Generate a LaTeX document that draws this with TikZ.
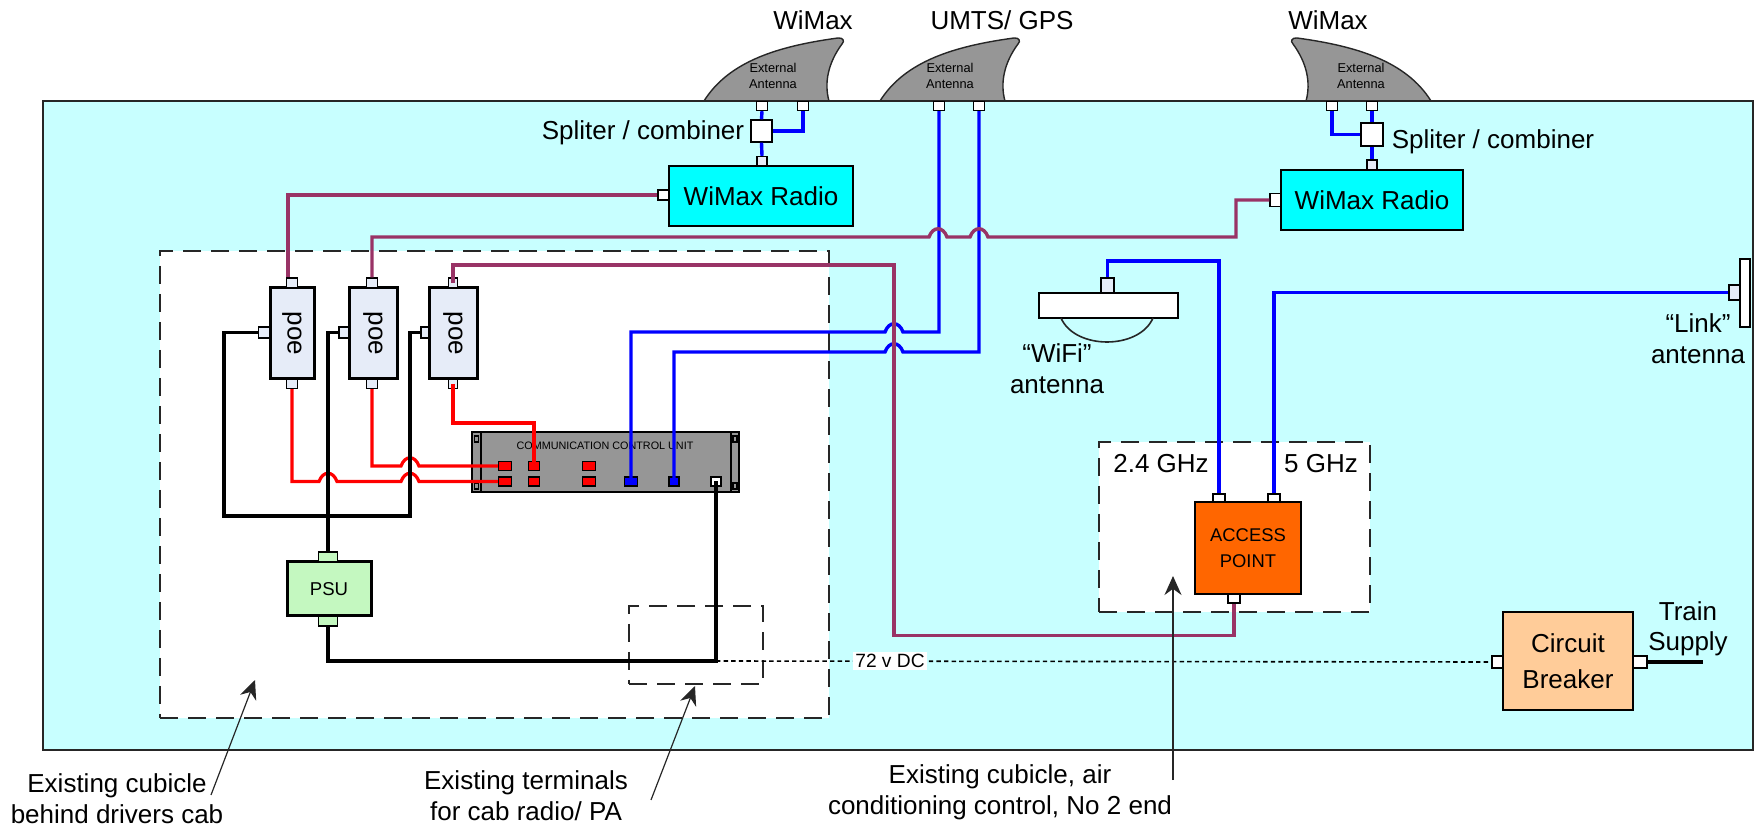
\documentclass[tikz,border=0pt]{standalone}
\usepackage{xcolor}
\usepackage{fontspec}
\setmainfont{Liberation Sans}
\usetikzlibrary{positioning,arrows.meta,calc}

\definecolor{trainbg}{HTML}{C8FFFF}
\definecolor{radiocol}{HTML}{00FFFF}
\definecolor{poecol}{HTML}{E6ECF8}
\definecolor{psucol}{HTML}{C4F8C0}
\definecolor{apcol}{HTML}{FF6600}
\definecolor{cbcol}{HTML}{FFCC99}
\definecolor{purplewire}{HTML}{993366}
\definecolor{unitgray}{HTML}{969696}

\tikzset{
    blk/.style 2 args={draw,inner sep=0pt,minimum width=#1*0.5pt,minimum height=#2*0.5pt},
    port/.style 2 args={blk={#1}{#2},fill=white,line width=0.7pt},
    dashbox/.style 2 args={blk={#1}{#2},fill=white,line width=0.8pt,dash pattern=on 9pt off 5pt,draw=black!85},
    txt/.style={inner sep=0pt,align=center,font=\fontsize{13}{15.5}\selectfont},
    tinytxt/.style={inner sep=0pt,align=center,font=\fontsize{6.4}{8}\selectfont},
    bluewire/.style={draw=blue,line width=1.7pt},
    redwire/.style={draw=red,line width=1.6pt},
    purplew/.style={draw=purplewire,line width=1.7pt},
    blackwire/.style={draw=black,line width=1.6pt},
    callout/.style={draw=black!85,line width=0.6pt,-{Stealth[length=9.5pt,width=8.5pt]}},
    fin/.style={draw=black!85,fill=unitgray,line width=0.7pt}
}

% hump of a wire that jumps over another one
\newcommand{\hopover}[1]{.. controls ($(#1)+(-5,-11)$) and ($(#1)+(5,-11)$) .. ($(#1)+(9,0)$)}
\newcommand{\finpath}{(0,0) .. controls (25,-40) and (75,-55) .. (134,-63) .. controls (139,-63.5) and (141,-60) .. (138,-57) .. controls (124,-38) and (120,-18) .. (125,0) -- cycle}

\begin{document}
\begin{tikzpicture}[x=0.5pt,y=-0.5pt]
    \useasboundingbox (0,0) rectangle (1758,828);

    % Antennas on the roof
    \draw[fin,shift={(704,101)}] \finpath;
    \draw[fin,shift={(880,101)}] \finpath;
    \draw[fin,shift={(1431,101)},xscale=-1] \finpath;

    % Train
    \node[blk={1710}{649},fill=trainbg,line width=0.8pt,draw=black!85] (train) at (898,425.5) {};
    \node[dashbox={669}{467}] (cubicle) at (494.5,484.5) {};
    \node[dashbox={134}{78}] (terminals) at (696,645) {};
    \node[dashbox={271}{170}] (apbox) at (1234.5,527) {};

    % Roof labels
    \node[txt] (wimaxa) at (813,20) {WiMax};
    \node[txt] (umts) at (1002,20) {UMTS/ GPS};
    \node[txt] (wimaxb) at (1328,20) {WiMax};
    \node[tinytxt] (exta) at (773,76) {External\\Antenna};
    \node[tinytxt] (extb) at (950,76) {External\\Antenna};
    \node[tinytxt] (extc) at (1361,76) {External\\Antenna};

    % Antenna ports
    \node[port={11}{9}] (anta) at (762,106) {};
    \node[port={11}{9}] (antb) at (803,106) {};
    \node[port={11}{9}] (antc) at (939,106) {};
    \node[port={11}{9}] (antd) at (979,106) {};
    \node[port={11}{9}] (ante) at (1332,106) {};
    \node[port={11}{9}] (antf) at (1372,106) {};

    % WiMax radio 1
    \node[port={21}{22}] (splita) at (761.5,131) {};
    \node[txt] (splitla) at (643,133) {Spliter / combiner};
    \node[blk={184}{60},fill=radiocol,line width=0.8pt,font=\fontsize{13}{15}\selectfont] (radioa) at (761,196) {WiMax Radio};
    \node[port={10}{9},fill=poecol] (radioat) at (762,161) {};
    \node[port={11}{10}] (radioal) at (663.5,195) {};

    % WiMax radio 2
    \node[port={22}{23}] (splitb) at (1372,134.5) {};
    \node[txt] (splitlb) at (1493,142) {Spliter / combiner};
    \node[blk={182}{60},fill=radiocol,line width=0.8pt,font=\fontsize{13}{15}\selectfont] (radiob) at (1372,200) {WiMax Radio};
    \node[port={10}{10},fill=poecol] (radiobt) at (1372,165) {};
    \node[port={11}{13}] (radiobl) at (1275.5,200) {};

    % PoE units
    \node[blk={44}{91},fill=poecol,line width=1.5pt] (poea) at (292,333.5) {\rotatebox{-90}{\fontsize{13}{15}\selectfont poe}};
    \node[port={11}{10},fill=poecol] (poeat) at (292,283) {};
    \node[port={11}{9},fill=poecol] (poeab) at (292,384) {};
    \node[port={11}{11},fill=poecol] (poeal) at (264,332.5) {};
    \node[blk={48}{91},fill=poecol,line width=1.5pt] (poeb) at (373,333.5) {\rotatebox{-90}{\fontsize{13}{15}\selectfont poe}};
    \node[port={11}{10},fill=poecol] (poebt) at (372,283) {};
    \node[port={11}{9},fill=poecol] (poebb) at (372,384) {};
    \node[port={10}{11},fill=poecol] (poebl) at (344,332.5) {};
    \node[blk={48}{91},fill=poecol,line width=1.5pt] (poec) at (453,333.5) {\rotatebox{-90}{\fontsize{13}{15}\selectfont poe}};
    \node[port={9}{10},fill=poecol] (poect) at (453,283) {};
    \node[port={9}{9},fill=poecol] (poecb) at (453,384) {};
    \node[port={8}{11},fill=poecol] (poecl) at (425,332.5) {};

    % Communication control unit
    \node[blk={267}{60},fill=unitgray,line width=0.8pt] (ccu) at (605.5,462) {};
    \node[blk={9}{60},fill=unitgray,line width=0.6pt] (earl) at (476.5,462) {};
    \node[blk={8}{60},fill=unitgray,line width=0.6pt] (earr) at (735,462) {};
    \node[port={4}{6},fill=unitgray] (pinla) at (476.5,439) {};
    \node[port={4}{6},fill=unitgray] (pinlb) at (476.5,486) {};
    \node[port={4}{6},fill=unitgray] (pinra) at (735,439) {};
    \node[port={4}{6},fill=unitgray] (pinrb) at (735,486) {};
    \node[inner sep=0pt,font=\fontsize{5.4}{7}\selectfont] (ccut) at (605,446) {COMMUNICATION CONTROL UNIT};
    \node[port={13}{9},fill=red] (ccura) at (505,466) {};
    \node[port={11}{9},fill=red] (ccurb) at (534,466) {};
    \node[port={13}{9},fill=red] (ccurc) at (589,466) {};
    \node[port={13}{9},fill=red] (ccurd) at (505,481.5) {};
    \node[port={11}{9},fill=red] (ccure) at (534,481.5) {};
    \node[port={13}{9},fill=red] (ccurf) at (589,481.5) {};
    \node[port={13}{9},fill=blue] (ccuba) at (631,481.5) {};
    \node[port={10}{9},fill=blue] (ccubb) at (674,481.5) {};
    \node[port={10}{9}] (ccuw) at (716,481.5) {};

    % PSU
    \node[blk={84}{54},fill=psucol,line width=1.5pt,font=\fontsize{9.3}{11}\selectfont] (psu) at (329,589) {PSU};
    \node[port={19}{10},fill=psucol] (psut) at (328,557) {};
    \node[port={19}{10},fill=psucol] (psub) at (328,621) {};

    % WiFi and link antennas
    \node[blk={139}{25},fill=white,line width=0.8pt] (wifi) at (1108.5,305.5) {};
    \node[port={13}{15},fill=poecol] (wifit) at (1107.5,285.5) {};
    \draw[line width=0.8pt,draw=black!85] (1061,318) .. controls (1075,350) and (1139,350) .. (1153,318);
    \node[txt] (wifil) at (1057,368.5) {``WiFi''\\antenna};
    \node[blk={10}{68},fill=white,line width=0.8pt] (link) at (1745,293) {};
    \node[port={11}{15},fill=poecol] (linkp) at (1734.5,292.5) {};
    \node[txt] (linkl) at (1698,339) {``Link''\\antenna};

    % Access point
    \node[txt] (ghza) at (1161,464) {2.4 GHz};
    \node[txt] (ghzb) at (1321,464) {5 GHz};
    \node[blk={106}{92},fill=apcol,line width=0.8pt,align=center,font=\fontsize{9.2}{13}\selectfont] (ap) at (1248,548) {ACCESS\\POINT};
    \node[port={12}{8}] (apa) at (1219,498) {};
    \node[port={12}{8}] (apc) at (1274,498) {};
    \node[port={12}{9}] (apb) at (1234,598.5) {};

    % Circuit breaker
    \node[blk={130}{98},fill=cbcol,line width=0.8pt,align=center,font=\fontsize{13}{18}\selectfont] (cb) at (1568,661) {Circuit\\Breaker};
    \node[port={11}{12}] (cbl) at (1497.5,662) {};
    \node[port={14}{12}] (cbr) at (1640,662) {};
    \coordinate (supply) at (1703,662);
    \node[txt,font=\fontsize{13}{15}\selectfont] (trainl) at (1688,629) {Train\\Supply};

    % Hops and corners
    \coordinate (hopa) at (938,237);
    \coordinate (hopb) at (979,237);
    \coordinate (hopc) at (894,332);
    \coordinate (hopd) at (894,352);
    \coordinate (hope) at (328,481.5);
    \coordinate (hopf) at (410,481.5);
    \coordinate (hopg) at (410,466);
    \coordinate (cornera) at (1236,237);
    \coordinate (cornerb) at (894,265);
    \coordinate (cornerc) at (894,635.5);
    \coordinate (loopl) at (224,516);
    \coordinate (loopr) at (410,516);
    \coordinate (dctap) at (716,661);
    \coordinate (redbend) at (534,423);
    \coordinate (wifibend) at (1219,261);

    % Blue wires
    \draw[bluewire] (anta.south) -- (splita.north);
    \draw[bluewire] (antb.south) |- (splita.east);
    \draw[bluewire] (splita.south) -- (radioat.north);
    \draw[bluewire] (ante.south) |- (splitb.west);
    \draw[bluewire] (antf.south) -- (splitb.north);
    \draw[bluewire] (splitb.south) -- (radiobt.north);
    \draw[bluewire] (ccuba.center) |- ($(hopc)+(-9,0)$) \hopover{hopc} -| (antc.south);
    \draw[bluewire] (ccubb.center) |- ($(hopd)+(-9,0)$) \hopover{hopd} -| (antd.south);
    \draw[bluewire] (wifit.north) |- (wifibend) -- (apa.north);
    \draw[bluewire] (apc.north) |- (linkp.west);

    % Purple wires
    \draw[purplew] ([xshift=-2pt]poeat.north) |- (radioal.west);
    \draw[purplew] (poebt.north) |- ($(hopa)+(-9,0)$) \hopover{hopa} -- ($(hopb)+(-9,0)$) \hopover{hopb} -- (cornera) |- (radiobl.west);
    \draw[purplew] (poect.center) |- (cornerb) -- (cornerc) -| (apb.south);

    % Red wires
    \draw[redwire] (poeab.south) |- ($(hope)+(-9,0)$) \hopover{hope} -- ($(hopf)+(-9,0)$) \hopover{hopf} -- (ccurd.west);
    \draw[redwire] (poebb.south) |- ($(hopg)+(-9,0)$) \hopover{hopg} -- (ccura.west);
    \draw[redwire] (poecb.center) |- (redbend) -- (ccurb.center);

    % Black wires
    \draw[blackwire] (poeal.west) -| (loopl) -- (loopr) |- (poecl.west);
    \draw[blackwire] (poebl.west) -| (psut.north);
    \draw[blackwire] (psub.south) |- (dctap) -- (ccuw.center);
    \draw[blackwire] (cbr.east) -- (supply);

    % 72 v DC line
    \draw[line width=0.8pt,dash pattern=on 2.2pt off 1.6pt] (dctap) -- (cbl.west);
    \node[fill=white,inner sep=1pt,font=\fontsize{9.6}{11}\selectfont] (dcl) at (890,661) {72 v DC};

    % Callouts
    \node[txt] (capa) at (117,799) {Existing cubicle\\behind drivers cab};
    \node[txt] (capb) at (526,796) {Existing terminals\\for cab radio/ PA};
    \node[txt] (capc) at (1000,792) {Existing cubicle, air\\conditioning control, No 2 end};
    \coordinate (capat) at (211,795);
    \coordinate (capbt) at (651,800);
    \coordinate (capct) at (1173,780);
    \coordinate (capah) at (255,680);
    \coordinate (capbh) at (695,686);
    \coordinate (capch) at (1173,576);
    \draw[callout] (capat) -- (capah);
    \draw[callout] (capbt) -- (capbh);
    \draw[callout] (capct) -- (capch);
\end{tikzpicture}
\end{document}
